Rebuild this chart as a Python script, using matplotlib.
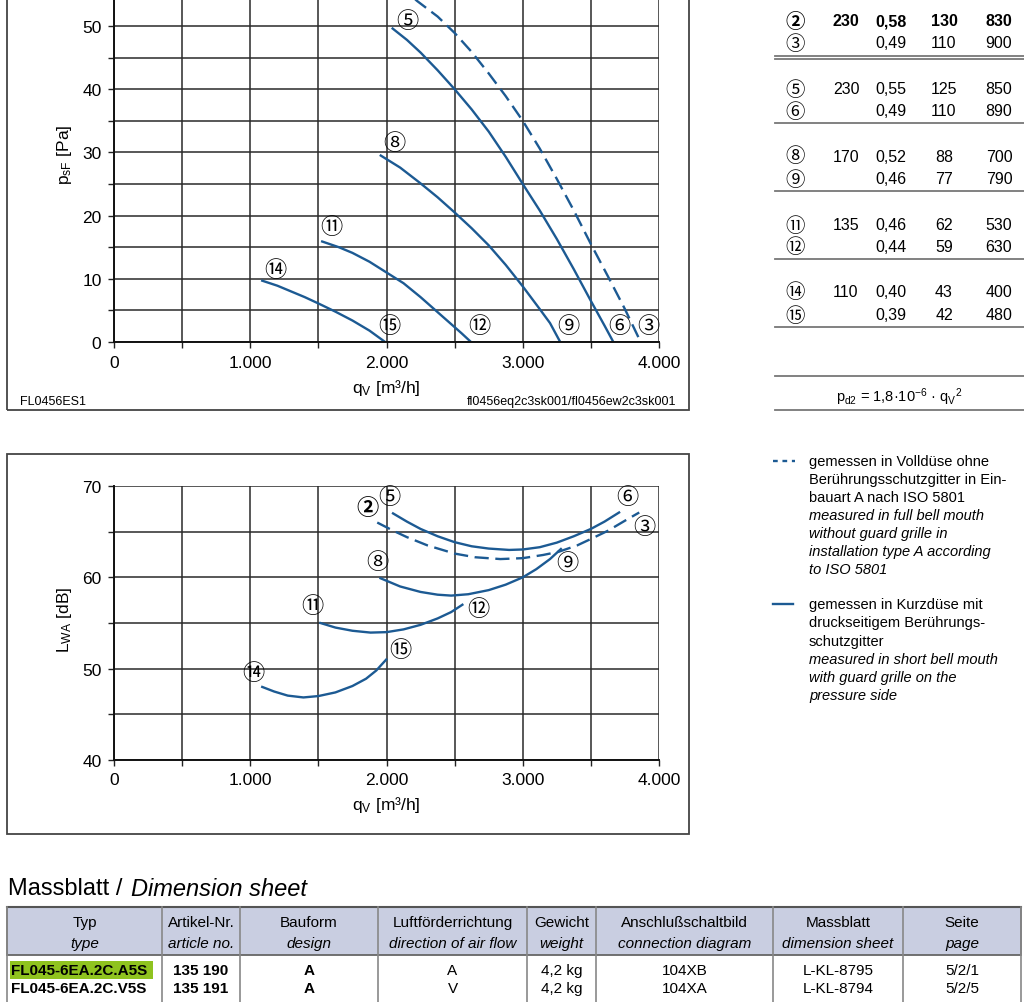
import matplotlib
matplotlib.use("Agg")
import matplotlib.pyplot as plt
from matplotlib.patches import Rectangle
from matplotlib.lines import Line2D

W, H = 1024, 1003

# ---- pressure curves (qV in m3/h, psF in Pa)
q_23 = [2150, 2222, 2375, 2500, 2625, 2750, 2875, 3000, 3125, 3250, 3375, 3500, 3625, 3750, 3850]
p_23 = [55.5, 54.0, 51.5, 48.9, 45.9, 42.5, 38.9, 35.0, 30.6, 25.8, 20.8, 15.5, 10.4, 5.2, 0.7]
q_56 = [2045, 2150, 2250, 2375, 2500, 2625, 2750, 2875, 3000, 3125, 3250, 3375, 3500, 3600, 3665]
p_56 = [49.6, 47.8, 45.8, 43.0, 40.0, 36.8, 33.3, 29.3, 25.0, 20.8, 16.3, 11.5, 6.5, 2.6, 0.0]
q_89 = [1958, 2100, 2250, 2375, 2500, 2625, 2750, 2875, 3000, 3125, 3200, 3275]
p_89 = [29.5, 27.6, 25.1, 22.9, 20.5, 18.0, 15.3, 12.2, 8.8, 5.2, 3.0, 0.0]
q_1112 = [1528, 1650, 1750, 1875, 2000, 2125, 2250, 2350, 2450, 2550, 2620]
p_1112 = [15.9, 15.0, 14.1, 12.7, 11.0, 9.3, 7.1, 5.2, 3.3, 1.4, 0.0]
q_1415 = [1088, 1200, 1300, 1400, 1500, 1625, 1750, 1875, 1990]
p_1415 = [9.7, 8.9, 8.0, 7.1, 6.1, 4.8, 3.4, 1.8, 0.0]

# ---- sound power curves (LWA in dB)
lq_23 = [1932, 2050, 2150, 2300, 2500, 2650, 2836, 3000, 3150, 3264, 3400, 3500, 3625, 3750, 3855]
lw_23 = [66.0, 65.1, 64.4, 63.5, 62.6, 62.2, 62.0, 62.1, 62.45, 62.8, 63.5, 64.2, 65.1, 66.2, 67.1]
lq_56 = [2048, 2150, 2250, 2375, 2500, 2625, 2750, 2900, 3000, 3125, 3250, 3375, 3500, 3600, 3707]
lw_56 = [67.0, 66.1, 65.3, 64.5, 63.85, 63.4, 63.15, 63.0, 63.05, 63.3, 63.8, 64.5, 65.3, 66.1, 67.1]
lq_89 = [1956, 2100, 2250, 2375, 2475, 2600, 2750, 2875, 3000, 3100, 3200, 3280]
lw_89 = [59.9, 59.0, 58.4, 58.1, 58.0, 58.15, 58.6, 59.2, 60.0, 60.9, 62.0, 63.1]
lq_1112 = [1515, 1625, 1750, 1883, 2000, 2125, 2250, 2375, 2475, 2557]
lw_1112 = [55.0, 54.5, 54.15, 53.95, 54.0, 54.3, 54.8, 55.5, 56.2, 57.0]
lq_1415 = [1088, 1175, 1275, 1390, 1500, 1625, 1750, 1850, 1925, 1998]
lw_1415 = [48.0, 47.5, 47.05, 46.85, 47.0, 47.4, 48.1, 48.9, 49.8, 51.0]

# curve labels
top_labels = ["⑤", "⑧", "⑪", "⑭", "⑮", "⑫", "⑨", "⑥", "③"]
top_lab_q = [2150, 2057, 1594, 1186, 2021, 2679, 3336, 3710, 3920]
top_lab_p = [50.9, 31.6, 18.2, 11.4, 2.6, 2.6, 2.6, 2.6, 2.6]
bot_labels = ["②", "⑤", "⑥", "③", "⑨", "⑧", "⑪", "⑫", "⑮", "⑭"]
bot_lab_q = [1857, 2018, 3765, 3890, 3325, 1930, 1453, 2672, 2099, 1020]
bot_lab_l = [67.7, 68.8, 68.9, 65.6, 61.6, 61.7, 56.9, 56.6, 52.1, 49.6]

x_ticks = [0, 500, 1000, 1500, 2000, 2500, 3000, 3500, 4000]
x_ticklabels = ["0", "", "1.000", "", "2.000", "", "3.000", "", "4.000"]

# operating point table
op_marks = ["②", "③", "⑤", "⑥", "⑧", "⑨", "⑪", "⑫", "⑭", "⑮"]
op_volt = ["230", "", "230", "", "170", "", "135", "", "110", ""]
op_amp = ["0,58", "0,49", "0,55", "0,49", "0,52", "0,46", "0,46", "0,44", "0,40", "0,39"]
op_watt = ["130", "110", "125", "110", "88", "77", "62", "59", "43", "42"]
op_rpm = ["830", "900", "850", "890", "700", "790", "530", "630", "400", "480"]

legend_dash = ["gemessen in Volldüse ohne", "Berührungsschutzgitter in Ein-",
               "bauart A nach ISO 5801"]
legend_dash_en = ["measured in full bell mouth", "without guard grille in",
                  "installation type A according", "to ISO 5801"]
legend_solid = ["gemessen in Kurzdüse mit", "druckseitigem Berührungs-", "schutzgitter"]
legend_solid_en = ["measured in short bell mouth", "with guard grille on the", "pressure side"]

tab_head_de = ["Typ", "Artikel-Nr.", "Bauform", "Luftförderrichtung", "Gewicht",
               "Anschlußschaltbild", "Massblatt", "Seite"]
tab_head_en = ["type", "article no.", "design", "direction of air flow", "weight",
               "connection diagram", "dimension sheet", "page"]
tab_rows = [["FL045-6EA.2C.A5S", "135 190", "A", "A", "4,2 kg", "104XB", "L-KL-8795", "5/2/1"],
            ["FL045-6EA.2C.V5S", "135 191", "A", "V", "4,2 kg", "104XA", "L-KL-8794", "5/2/5"]]

BLUE = "#1c5a93"
NARROW = ["Liberation Sans Narrow", "Liberation Sans", "DejaVu Sans"]
SANS = ["Liberation Sans", "DejaVu Sans"]
CIRC = ["Noto Sans CJK JP", "DejaVu Sans"]

plt.rcParams["mathtext.fontset"] = "custom"
plt.rcParams["mathtext.rm"] = "Liberation Sans"
plt.rcParams["mathtext.it"] = "Liberation Sans:italic"


def fx(px):
    return px / W


def fy(py):
    return 1 - py / H


fig = plt.figure(figsize=(W / 100, H / 100), dpi=100)


def setup_axes(ax, ymin, ymax, ystep, ylabels):
    ax.set_xlim(0, 4000)
    ax.set_ylim(ymin, ymax)
    yt = list(range(ymin, ymax + 1, ystep))
    ax.set_xticks(x_ticks)
    ax.set_xticklabels(x_ticklabels, family=NARROW, fontsize=12.5)
    ax.set_yticks(yt)
    ax.set_yticklabels([str(v) if v in ylabels else "" for v in yt], family=NARROW, fontsize=12.5)
    ax.grid(True, color="#2a2a2a", lw=1.1)
    ax.set_axisbelow(True)
    for s in ["top", "right"]:
        ax.spines[s].set_visible(False)
    for s in ["left", "bottom"]:
        ax.spines[s].set_linewidth(1.4)
        ax.spines[s].set_color("#111111")
    ax.tick_params(direction="out", length=4, width=1.0, color="#222222", pad=5)
    ax.patch.set_alpha(0)


# ---------------- top chart
ax1 = fig.add_axes([fx(114), fy(343), fx(659) - fx(114), 379.2 / H])
setup_axes(ax1, 0, 60, 5, [0, 10, 20, 30, 40, 50])
ax1.plot(q_23, p_23, color=BLUE, lw=1.7, dashes=(6, 2.8))
for q, p in [(q_56, p_56), (q_89, p_89), (q_1112, p_1112), (q_1415, p_1415)]:
    ax1.plot(q, p, color=BLUE, lw=1.7)
for s, q, p in zip(top_labels, top_lab_q, top_lab_p):
    ax1.text(q, p, s, family=CIRC, fontsize=16, ha="center", va="center")

fig.patches.append(Rectangle((fx(7), fy(411)), fx(689) - fx(7), 0.6, transform=fig.transFigure,
                             fill=False, ec="#444444", lw=1.3))
fig.text(fx(65), fy(155), r"p$_{\mathrm{sF}}$ [Pa]", rotation=90, ha="center", va="center",
         family=NARROW, fontsize=12.5)
fig.text(fx(386), fy(388), r"q$_{\mathrm{V}}$ [m³/h]", ha="center", va="center",
         family=NARROW, fontsize=12.5)
fig.text(fx(20), fy(402), "FL0456ES1", ha="left", va="center", family=NARROW, fontsize=9)
fig.text(fx(676), fy(402), "fl0456eq2c3sk001/fl0456ew2c3sk001", ha="right", va="center",
         family=NARROW, fontsize=9)

# ---------------- bottom chart
ax2 = fig.add_axes([fx(114), fy(761), fx(659) - fx(114), 274 / H])
setup_axes(ax2, 40, 70, 5, [40, 50, 60, 70])
ax2.plot(lq_23, lw_23, color=BLUE, lw=1.7, dashes=(6, 2.8))
for q, l in [(lq_56, lw_56), (lq_89, lw_89), (lq_1112, lw_1112), (lq_1415, lw_1415)]:
    ax2.plot(q, l, color=BLUE, lw=1.7)
for s, q, l in zip(bot_labels, bot_lab_q, bot_lab_l):
    ax2.text(q, l, s, family=CIRC, fontsize=16, ha="center", va="center",
             fontweight="bold" if s == "②" else "normal")

fig.patches.append(Rectangle((fx(7), fy(835)), fx(689) - fx(7), fy(455) - fy(835),
                             transform=fig.transFigure, fill=False, ec="#444444", lw=1.3))
fig.text(fx(65), fy(620), r"L$_{\mathrm{WA}}$ [dB]", rotation=90, ha="center", va="center",
         family=NARROW, fontsize=12.5)
fig.text(fx(386), fy(805), r"q$_{\mathrm{V}}$ [m³/h]", ha="center", va="center",
         family=NARROW, fontsize=12.5)

# ---------------- operating point table (right)
row_y = [22, 44, 90, 112, 157, 180, 226, 248, 293, 316]
for i in range(len(op_marks)):
    y = fy(row_y[i])
    bold = "bold" if i == 0 else "normal"
    fig.text(fx(795), y, op_marks[i], family=CIRC, fontsize=14, ha="center", va="center",
             fontweight=bold)
    for xc, col in [(846, op_volt), (891, op_amp), (944, op_watt), (999, op_rpm)]:
        fig.text(fx(xc), y, col[i], family=SANS, fontsize=11.5, ha="center", va="center",
                 fontweight=bold)

for yl in [57, 60, 124, 192, 260, 328, 377, 411]:
    fig.add_artist(Line2D([fx(775), 1.0], [fy(yl), fy(yl)], color="#777777", lw=1.3))
fig.text(fx(899), fy(397), r"p$_{\mathrm{d2}}$ = 1,8·10$^{\mathrm{-6}}$ · q$_{\mathrm{V}}$$^{\mathrm{2}}$",
         family=SANS, fontsize=10.5, ha="center", va="center")

# ---------------- legend text
fig.add_artist(Line2D([fx(773), fx(795)], [fy(462), fy(462)], color=BLUE, lw=1.7, dashes=(2, 2)))
fig.add_artist(Line2D([fx(773), fx(793)], [fy(605), fy(605)], color=BLUE, lw=1.7))
y = 462
for s in legend_dash:
    fig.text(fx(809), fy(y), s, family=SANS, fontsize=10.5, va="center")
    y += 18
for s in legend_dash_en:
    fig.text(fx(809), fy(y), s, family=SANS, fontsize=10.5, va="center", style="italic")
    y += 18
y = 605
for s in legend_solid:
    fig.text(fx(809), fy(y), s, family=SANS, fontsize=10.5, va="center")
    y += 18.3
for s in legend_solid_en:
    fig.text(fx(809), fy(y), s, family=SANS, fontsize=10.5, va="center", style="italic")
    y += 18.3

# ---------------- dimension sheet table
fig.text(fx(8), fy(889), "Massblatt / ", family=NARROW, fontsize=17, va="center")
fig.text(fx(131), fy(889), "Dimension sheet", family=NARROW, fontsize=17, va="center",
         style="italic")

col_x = [7, 162, 240, 378, 527, 596, 773, 903, 1021]
fig.patches.append(Rectangle((fx(7), fy(956)), fx(1021) - fx(7), fy(908) - fy(956),
                             transform=fig.transFigure, fc="#c9cee1", ec="#666666", lw=1.3))
fig.add_artist(Line2D([fx(7), fx(1021)], [fy(908), fy(908)], color="#555555", lw=1.5))
for xb in col_x:
    fig.add_artist(Line2D([fx(xb), fx(xb)], [fy(908), 0], color="#888888", lw=1.2))
for i in range(8):
    xc = fx((col_x[i] + col_x[i + 1]) / 2)
    fig.text(xc, fy(923), tab_head_de[i], family=SANS, fontsize=11, ha="center", va="center")
    fig.text(xc, fy(944), tab_head_en[i], family=SANS, fontsize=11, ha="center", va="center",
             style="italic")

fig.patches.append(Rectangle((fx(10), fy(980)), fx(153) - fx(10), fy(962) - fy(980),
                             transform=fig.transFigure, fc="#8fc31f", ec="none"))
for r, row in enumerate(tab_rows):
    yy = fy(971 + 18 * r)
    fig.text(fx(11), yy, row[0], family=SANS, fontsize=11, ha="left", va="center", fontweight="bold")
    for i in range(1, 8):
        xc = fx((col_x[i] + col_x[i + 1]) / 2)
        fig.text(xc, yy, row[i], family=SANS, fontsize=11, ha="center", va="center",
                 fontweight="bold" if i < 3 else "normal")

fig.savefig("out.png", dpi=100)
